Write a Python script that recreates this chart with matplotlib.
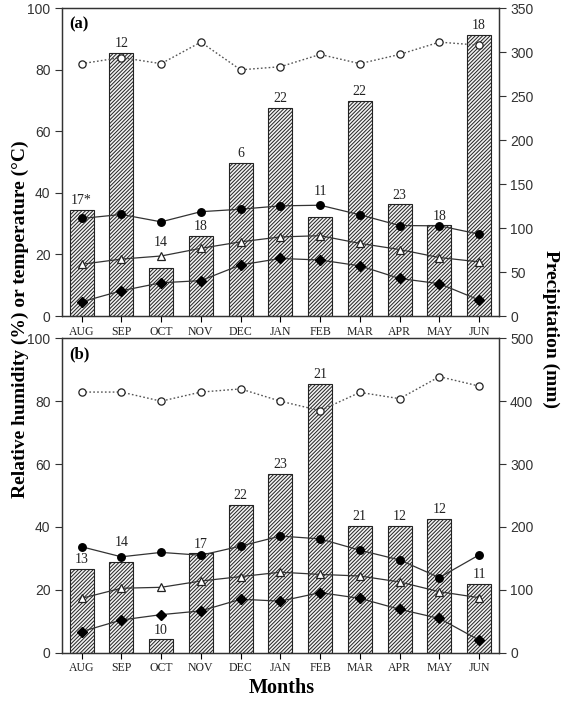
import matplotlib
matplotlib.use("Agg")
import matplotlib.pyplot as plt
import numpy as np

months = ["AUG", "SEP", "OCT", "NOV", "DEC", "JAN", "FEB", "MAR", "APR", "MAY", "JUN"]

# Panel (a)
precip_a = [121, 299, 55, 91, 174, 237, 113, 245, 127, 103, 320]
rh_a = [82, 84, 82, 89, 80, 81, 85, 82, 85, 89, 88]
tmax_a = [31.7, 33.0, 30.6, 33.9, 34.7, 35.8, 36.0, 32.9, 29.4, 29.3, 26.6]
tmean_a = [16.8, 18.5, 19.5, 22.0, 24.1, 25.7, 26.1, 23.6, 21.6, 19.0, 17.6]
tmin_a = [4.6, 8.2, 10.8, 11.5, 16.6, 18.7, 18.2, 16.3, 12.2, 10.5, 5.2]
days_a = ["17*", "12", "14", "18", "6", "22", "11", "22", "23", "18", "18"]

# Panel (b)
precip_b = [133, 144, 21, 158, 235, 284, 428, 202, 202, 213, 109]
rh_b = [82.9, 82.9, 80.0, 82.9, 83.9, 80.0, 77.0, 82.8, 80.8, 87.8, 84.8]
tmax_b = [33.7, 30.5, 31.9, 31.0, 33.9, 37.1, 36.2, 32.6, 29.5, 23.9, 31.1]
tmean_b = [17.3, 20.5, 20.8, 22.8, 24.2, 25.6, 24.9, 24.4, 22.5, 19.4, 17.5]
tmin_b = [6.7, 10.4, 12.1, 13.3, 17.0, 16.4, 19.1, 17.3, 13.8, 10.9, 4.0]
days_b = ["13", "14", "10", "17", "22", "23", "21", "21", "12", "12", "11"]

plt.rcParams["hatch.linewidth"] = 0.7
plt.rcParams["hatch.color"] = "#4a4a4a"

SERIF = ["Liberation Serif", "DejaVu Serif"]
SANS = ["Liberation Sans", "DejaVu Sans"]

fig = plt.figure(figsize=(5.61, 7.01), dpi=100)

def panel(rect, precip, rh, tmax, tmean, tmin, days, pmax, pstep, tag):
    ax = fig.add_axes(rect)
    ax2 = ax.twinx()
    x = np.arange(len(months))
    ax2.bar(x, precip, width=0.6, facecolor="#f2f2f2", edgecolor="#222222",
            linewidth=0.8, hatch="/////////", zorder=1)
    ax2.set_ylim(0, pmax)
    ax2.set_yticks(np.arange(0, pmax + 1, pstep))
    ax.set_zorder(ax2.get_zorder() + 1)
    ax.patch.set_visible(False)

    ax.plot(x, rh, linestyle=(0, (1.2, 1.6)), color="#555555", linewidth=1.0,
            marker="o", markersize=5.2, markerfacecolor="white",
            markeredgecolor="#222222", markeredgewidth=0.9)
    ax.plot(x, tmax, linestyle="-", color="#333333", linewidth=0.9,
            marker="o", markersize=5.4, markerfacecolor="black",
            markeredgecolor="black")
    ax.plot(x, tmean, linestyle="-", color="#333333", linewidth=0.9,
            marker="^", markersize=6, markerfacecolor="white",
            markeredgecolor="#222222", markeredgewidth=0.9)
    ax.plot(x, tmin, linestyle="-", color="#333333", linewidth=0.9,
            marker="D", markersize=4.6, markerfacecolor="black",
            markeredgecolor="black")

    ax.set_xlim(-0.5, len(months) - 0.5)
    ax.set_ylim(0, 100)
    ax.set_yticks(np.arange(0, 101, 20))
    ax.set_xticks(x)
    ax.set_xticklabels(months, fontfamily=SERIF, fontsize=8.5, color="#222222")
    ax.tick_params(axis="x", direction="out", length=4, width=0.8, pad=3, top=False)
    ax.tick_params(axis="y", direction="out", length=5, width=0.8, pad=3,
                   labelsize=10, colors="#333333")
    ax2.tick_params(axis="y", direction="out", length=5, width=0.8, pad=3,
                    labelsize=10, colors="#333333")
    for lab in ax.get_yticklabels() + ax2.get_yticklabels():
        lab.set_fontfamily(SANS)
    for a in (ax, ax2):
        for s in a.spines.values():
            s.set_linewidth(0.9)
            s.set_color("#333333")

    # day-count labels above bars (anchor raised when a temperature line crosses just above the bar)
    scale = pmax / 100.0
    for i, d in enumerate(days):
        top = precip[i] / scale
        anchor = top
        for v in (tmax[i], tmean[i], tmin[i]):
            if top + 1 < v < top + 6:
                anchor = max(anchor, v + 1.5)
        ax.annotate(d, (x[i], anchor), xytext=(0, 2), textcoords="offset points",
                    ha="center", va="bottom", fontfamily=SERIF, fontsize=10,
                    color="#222222")

    ax.text(0.018, 0.975, tag, transform=ax.transAxes, ha="left", va="top",
            fontfamily=SERIF, fontsize=12, fontweight="bold")
    return ax, ax2

panel([0.110, 0.5492, 0.7795, 0.4390], precip_a, rh_a, tmax_a, tmean_a, tmin_a,
      days_a, 350, 50, "(a)")
panel([0.110, 0.0689, 0.7795, 0.4485], precip_b, rh_b, tmax_b, tmean_b, tmin_b,
      days_b, 500, 100, "(b)")

fig.text(0.036, 0.545, "Relative humidity (%) or temperature (\u00b0C)", rotation=90,
         ha="center", va="center", fontfamily=SERIF, fontsize=14, fontweight="bold")
fig.text(0.982, 0.53, "Precipitation (mm)", rotation=270,
         ha="center", va="center", fontfamily=SERIF, fontsize=14, fontweight="bold")
fig.text(0.502, 0.018, "Months", ha="center", va="center",
         fontfamily=SERIF, fontsize=14.5, fontweight="bold")

fig.savefig("out.png", dpi=100)
